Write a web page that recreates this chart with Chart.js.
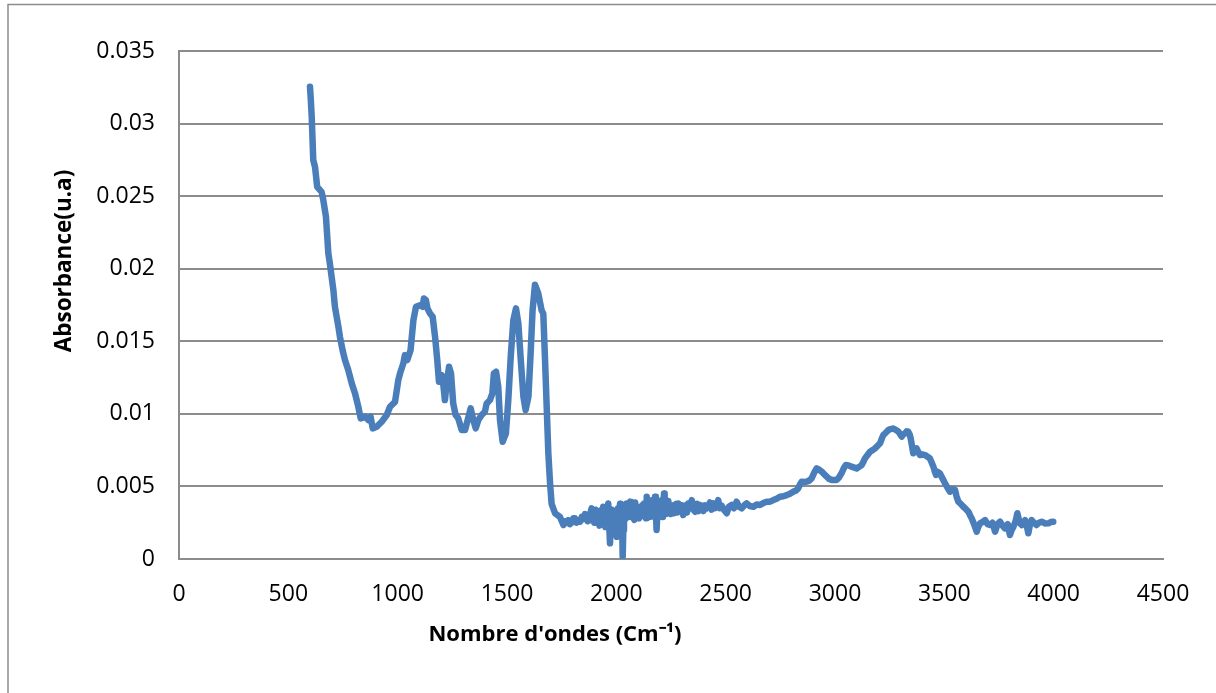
<!DOCTYPE html>
<html>
<head>
<meta charset="utf-8">
<script src="https://cdn.jsdelivr.net/npm/chart.js@4.4.1/dist/chart.umd.min.js"></script>
<style>
  html, body { margin: 0; padding: 0; background: #fff; }
  #wrap { width: 1216px; height: 693px; }
</style>
</head>
<body>
<div id="wrap"><canvas id="spectre" width="1216" height="693"></canvas></div>
<script>
// Spectre IR : nombre d'ondes (cm-1) et absorbance
const nombreOndes = [
  599, 602, 607, 614, 622, 632, 652, 660, 672, 683, 690, 698, 706, 713, 729, 736, 748, 759, 774, 790,
  805, 820, 831, 851, 866, 876, 886, 904, 927, 950, 965, 988, 1003, 1011, 1026, 1033, 1044, 1059, 1072, 1084,
  1102, 1114, 1120, 1129, 1136, 1148, 1160, 1171, 1181, 1189, 1201, 1209, 1216, 1224, 1235, 1244, 1254, 1265, 1277, 1293,
  1308, 1320, 1334, 1346, 1357, 1369, 1384, 1399, 1407, 1422, 1433, 1440, 1450, 1460, 1468, 1480, 1495, 1506, 1517, 1529,
  1541, 1552, 1563, 1575, 1585, 1598, 1608, 1617, 1628, 1643, 1658, 1666, 1674, 1681, 1689, 1697, 1704, 1720, 1742, 1758,
  // zone bruitée
  1765, 1772, 1780, 1788, 1795, 1803, 1811, 1818, 1825, 1834,
  1842, 1850, 1857, 1864, 1869, 1875, 1880, 1887, 1891, 1895,
  1899, 1902, 1906, 1910, 1914, 1918, 1923, 1927, 1930, 1935,
  1940, 1944, 1947, 1950, 1953, 1958, 1963, 1967, 1971, 1974,
  1977, 1980, 1983, 1988, 1991, 1994, 1998, 2002, 2005, 2008,
  2011, 2014, 2017, 2020, 2023, 2026, 2029, 2032, 2035, 2038,
  2041, 2044, 2047, 2051, 2055, 2059, 2063, 2066, 2070, 2074,
  2078, 2082, 2086, 2091, 2096, 2100, 2103, 2107, 2111, 2115,
  2119, 2123, 2127, 2130, 2133, 2136, 2139, 2143, 2147, 2150,
  2154, 2157, 2160, 2163, 2166, 2169, 2172, 2175, 2177, 2181,
  2184, 2187, 2190, 2194, 2197, 2200, 2202, 2205, 2207, 2210,
  2213, 2216, 2218, 2221, 2224, 2227, 2230, 2234, 2238, 2242,
  2245, 2250, 2255, 2260, 2264, 2269, 2274, 2279, 2284, 2290,
  2295, 2300, 2306, 2312, 2318, 2323, 2329, 2337, 2345, 2352,
  2360, 2365, 2370, 2376, 2383, 2390, 2398, 2405, 2413, 2420,
  2428, 2436, 2444, 2451, 2458, 2466, 2473, 2480, 2492, 2505,
  // bande large 2800-3600
  2515, 2527, 2538, 2550, 2561, 2573, 2585, 2596, 2610, 2627, 2642, 2657,
  2672, 2688, 2703, 2718, 2733, 2748, 2764, 2779, 2794, 2809, 2820, 2832, 2840, 2848, 2860, 2870, 2882, 2893, 2905, 2916,
  2928, 2939, 2950, 2962, 2973, 2985, 2997, 3008, 3020, 3030, 3040, 3049, 3062, 3076, 3088, 3099, 3110, 3122, 3130, 3137,
  3148, 3160, 3172, 3183, 3195, 3206, 3214, 3221, 3232, 3244, 3255, 3267, 3278, 3290, 3298, 3305, 3313, 3320, 3328, 3335,
  3341, 3346, 3352, 3358, 3365, 3373, 3380, 3389, 3400, 3412, 3423, 3434, 3442, 3450, 3457, 3462, 3470, 3480, 3490, 3503,
  3515, 3526, 3538, 3549, 3556, 3564, 3575, 3587, 3598, 3610, 3618, 3625, 3636, 3648, 3655, 3663, 3675, 3686, 3698, 3709,
  3720, 3732, 3743, 3755, 3766, 3777, 3790, 3800, 3808, 3816, 3826, 3834, 3844, 3854, 3862, 3869, 3877, 3884, 3892, 3899,
  3910, 3922, 3933, 3945, 3960, 3976, 3987, 3998
];

const absorbance = [
  0.03253, 0.03184, 0.03046, 0.02748, 0.02702, 0.02564, 0.0253, 0.02472, 0.02358, 0.02105, 0.02036, 0.01944, 0.01853, 0.01738, 0.016, 0.01531, 0.01439, 0.01371, 0.01302, 0.0121,
  0.01141, 0.01049, 0.00969, 0.00981, 0.00957, 0.00981, 0.009, 0.00911, 0.00946, 0.00992, 0.01049, 0.01083, 0.01233, 0.01279, 0.01348, 0.01405, 0.01371, 0.01439, 0.01646, 0.01738,
  0.01749, 0.01738, 0.01795, 0.01784, 0.01727, 0.01692, 0.01669, 0.01531, 0.01371, 0.01221, 0.01267, 0.01198, 0.01095, 0.0121, 0.01325, 0.01279, 0.01072, 0.00992, 0.00969, 0.00888,
  0.00888, 0.00957, 0.01038, 0.00957, 0.009, 0.00957, 0.00992, 0.01015, 0.01072, 0.01095, 0.01141, 0.01279, 0.0129, 0.01187, 0.00957, 0.00808, 0.00865, 0.01095, 0.01393, 0.01646,
  0.01727, 0.01623, 0.01371, 0.01118, 0.01026, 0.01118, 0.01416, 0.01715, 0.0189, 0.0183, 0.01715, 0.0169, 0.0137, 0.0107, 0.0073, 0.0052, 0.0038, 0.00315, 0.00291, 0.00234,
  // zone bruitée
  0.0026, 0.0025, 0.00268, 0.0024, 0.0025, 0.0028, 0.0028, 0.0025, 0.00262, 0.00257,
  0.0029, 0.00275, 0.0031, 0.00291, 0.0026, 0.00265, 0.0031, 0.00349, 0.0027, 0.003,
  0.0025, 0.0028, 0.0034, 0.0032, 0.0026, 0.00291, 0.0023, 0.003, 0.00335, 0.0027,
  0.0036, 0.0033, 0.003, 0.0022, 0.00268, 0.0034, 0.00383, 0.0025, 0.00108, 0.0022,
  0.0028, 0.0034, 0.00245, 0.0033, 0.0026, 0.002, 0.0029, 0.00153, 0.003, 0.0035,
  0.0024, 0.00315, 0.0038, 0.0025, 0.0033, 0.003, 0.00016, 0.002, 0.00245, 0.0035,
  0.0036, 0.0028, 0.00383, 0.0032, 0.003, 0.0037, 0.00395, 0.0029, 0.0033, 0.0038,
  0.00291, 0.0027, 0.0039, 0.0033, 0.0036, 0.0031, 0.0028, 0.0035, 0.00291, 0.0032,
  0.0037, 0.003, 0.00383, 0.0035, 0.0032, 0.0028, 0.00429, 0.0036, 0.0033, 0.0038,
  0.00291, 0.0034, 0.0036, 0.003, 0.00406, 0.0037, 0.0034, 0.003, 0.00429, 0.0031,
  0.002, 0.0029, 0.0038, 0.0031, 0.00337, 0.004, 0.003, 0.0034, 0.00383, 0.0029,
  0.0033, 0.0038, 0.00452, 0.0034, 0.0036, 0.0031, 0.00315, 0.0037, 0.004, 0.0033,
  0.00372, 0.0031, 0.0034, 0.0037, 0.00315, 0.0034, 0.0038, 0.0032, 0.00383, 0.0035,
  0.0033, 0.0037, 0.00303, 0.0034, 0.0037, 0.0032, 0.00383, 0.0035, 0.00406, 0.0034,
  0.00326, 0.0036, 0.0038, 0.0033, 0.00372, 0.0036, 0.0033, 0.0037, 0.00349, 0.0036,
  0.0039, 0.0034, 0.00383, 0.0035, 0.0036, 0.00406, 0.0035, 0.0037, 0.0034, 0.00315,
  // bande large 2800-3600
  0.0036, 0.00372, 0.0035, 0.00395, 0.0036, 0.00349, 0.0037, 0.00383, 0.00365, 0.0036, 0.00375, 0.00372,
  0.00385, 0.00395, 0.00395, 0.00406, 0.00415, 0.00429, 0.00432, 0.0044, 0.0045, 0.00464, 0.0047, 0.00487, 0.00515, 0.00533, 0.0053, 0.00533, 0.0054, 0.00556, 0.00595, 0.00624,
  0.00615, 0.00602, 0.00585, 0.00568, 0.00552, 0.00545, 0.00545, 0.00545, 0.00565, 0.00591, 0.00625, 0.00647, 0.00645, 0.00636, 0.0063, 0.00624, 0.00635, 0.00647, 0.0067, 0.00693,
  0.00715, 0.00739, 0.0075, 0.00762, 0.0078, 0.00797, 0.0083, 0.00854, 0.0087, 0.00888, 0.00895, 0.00899, 0.0089, 0.00877, 0.0086, 0.00843, 0.0086, 0.00865, 0.0088, 0.00877,
  0.0086, 0.00831, 0.0078, 0.00728, 0.0075, 0.00762, 0.0074, 0.00716, 0.0072, 0.00716, 0.00705, 0.00693, 0.00665, 0.00636, 0.006, 0.00579, 0.006, 0.0059, 0.0056, 0.00522,
  0.0049, 0.00464, 0.0048, 0.00476, 0.0043, 0.00395, 0.0038, 0.0036, 0.00345, 0.00326, 0.003, 0.00281, 0.0024, 0.00188, 0.0022, 0.00246, 0.00255, 0.00268, 0.0024, 0.00234,
  0.0025, 0.00188, 0.0024, 0.00257, 0.0023, 0.00211, 0.0024, 0.00165, 0.002, 0.00223, 0.0026, 0.00315, 0.0025, 0.00234, 0.0025, 0.00268, 0.0023, 0.00177, 0.0024, 0.00268,
  0.0025, 0.00234, 0.0025, 0.00257, 0.00245, 0.00246, 0.00255, 0.00257
];

const xTicks = [0, 500, 1000, 1500, 2000, 2500, 3000, 3500, 4000, 4500];
const yTicks = [0, 0.005, 0.01, 0.015, 0.02, 0.025, 0.03, 0.035];
const yTickLabels = ["0", "0.005", "0.01", "0.015", "0.02", "0.025", "0.03", "0.035"];

const titreX = "Nombre d'ondes (Cm⁻¹)";
const titreY = "Absorbance(u.a)";

const gris = "#8c8c8c";
const bleu = "#4a7ebb";

// Cadre gris et titres des axes (placés comme dans la figure Excel)
const cadreEtTitres = {
  id: "cadreEtTitres",
  beforeDraw(chart) {
    const ctx = chart.ctx;
    ctx.save();
    ctx.fillStyle = "#fff";
    ctx.fillRect(0, 0, chart.width, chart.height);
    ctx.strokeStyle = gris;
    ctx.lineWidth = 1.5;
    ctx.beginPath();
    ctx.moveTo(8, chart.height);
    ctx.lineTo(8, 4.5);
    ctx.lineTo(chart.width, 4.5);
    ctx.stroke();
    ctx.restore();
  },
  afterDraw(chart) {
    const ctx = chart.ctx;
    const area = chart.chartArea;
    ctx.save();
    ctx.fillStyle = "#000";
    ctx.font = "bold 22px 'Open Sans'";
    ctx.textAlign = "center";
    ctx.textBaseline = "middle";
    ctx.fillText(titreX, area.left + 376, area.bottom + 76);
    ctx.font = "bold 22.5px 'Open Sans'";
    ctx.translate(65, area.top + 210);
    ctx.rotate(-Math.PI / 2);
    ctx.fillText(titreY, 0, 0);
    ctx.restore();
  },
};

const ctx = document.getElementById("spectre").getContext("2d");

new Chart(ctx, {
  type: "line",
  data: {
    datasets: [
      {
        label: titreY,
        data: nombreOndes.map((x, i) => ({ x: x, y: absorbance[i] })),
        borderColor: bleu,
        borderWidth: 6.5,
        borderJoinStyle: "round",
        borderCapStyle: "round",
        pointRadius: 0,
        tension: 0,
        fill: false,
      },
    ],
  },
  options: {
    responsive: false,
    animation: false,
    devicePixelRatio: 1,
    layout: { padding: { left: 0, top: 51, right: 53, bottom: 0 } },
    plugins: {
      legend: { display: false },
      tooltip: { enabled: false },
    },
    scales: {
      x: {
        type: "linear",
        min: 0,
        max: 4500,
        afterBuildTicks: (scale) => {
          scale.ticks = xTicks.map((v) => ({ value: v }));
        },
        afterFit: (scale) => {
          scale.height = 134;
        },
        grid: { display: false, drawTicks: false },
        border: { display: true, color: gris, width: 2 },
        ticks: {
          padding: 22,
          color: "#000",
          font: { family: "'Open Sans'", size: 23 },
          maxRotation: 0,
          autoSkip: false,
          callback: (value) => String(value),
        },
      },
      y: {
        min: 0,
        max: 0.035,
        afterBuildTicks: (scale) => {
          scale.ticks = yTicks.map((v) => ({ value: v }));
        },
        afterFit: (scale) => {
          scale.width = 179;
        },
        grid: { color: gris, lineWidth: 2, drawTicks: false },
        border: { display: true, color: gris, width: 2 },
        ticks: {
          padding: 24,
          color: "#000",
          font: { family: "'Open Sans'", size: 23 },
          callback: (value) => {
            const i = yTicks.findIndex((v) => Math.abs(v - value) < 1e-9);
            return i >= 0 ? yTickLabels[i] : "";
          },
        },
      },
    },
  },
  plugins: [cadreEtTitres],
});
</script>
</body>
</html>
